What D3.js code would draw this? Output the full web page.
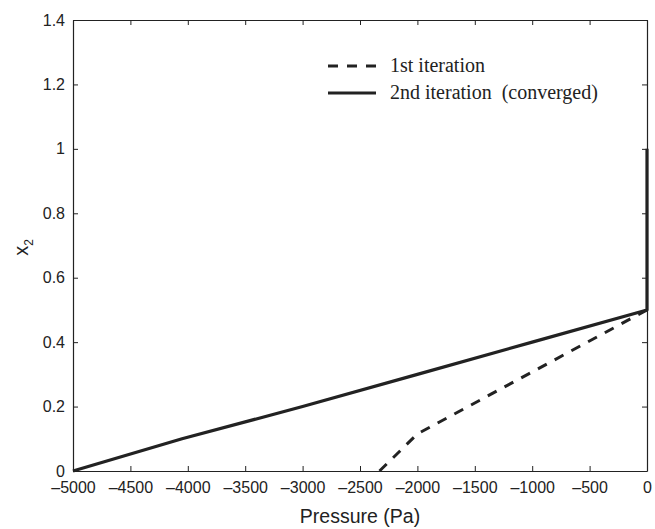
<!DOCTYPE html>
<html>
<head>
<meta charset="utf-8">
<script src="https://cdn.jsdelivr.net/npm/d3@7"></script>
<style>
  html, body { margin: 0; padding: 0; background: #fff; }
  svg { display: block; }
</style>
</head>
<body>
<div id="chart"></div>
<script>
// ── data ─────────────────────────────────────────────
const xTicks = [-5000, -4500, -4000, -3500, -3000, -2500, -2000, -1500, -1000, -500, 0];
const yTicks = [0, 0.2, 0.4, 0.6, 0.8, 1, 1.2, 1.4];

const iter1P  = [-2330, -2000, 0];
const iter1X2 = [0, 0.115, 0.5];

const iter2P  = [-5000, -4050, -3000, -2000, -1000, 0, 0];
const iter2X2 = [0, 0.1, 0.2, 0.3, 0.4, 0.5, 1];

const legendLabels = ['1st iteration', '2nd iteration\u2002(converged)'];

// ── layout ───────────────────────────────────────────
const W = 655, H = 529;
const m = { left: 73, right: 8, top: 20, bottom: 58 };
const iw = W - m.left - m.right, ih = H - m.top - m.bottom;

const svg = d3.select('#chart').append('svg')
  .attr('width', W).attr('height', H);

const x = d3.scaleLinear().domain([-5000, 0]).range([m.left, m.left + iw]);
const y = d3.scaleLinear().domain([0, 1.4]).range([m.top + ih, m.top]);

const sans = "'Liberation Sans', Arial, Helvetica, sans-serif";
const serif = "'Liberation Serif', 'Times New Roman', serif";
const fmtX = d => d < 0 ? '\u2013' + Math.abs(d) : String(d);
const fmtY = d => String(+d.toFixed(1));
const DASH = '10,9';

// ── axes (ticks inward, boxed) ───────────────────────
const tk = 5;
const axB = svg.append('g').attr('transform', `translate(0,${m.top + ih})`)
  .call(d3.axisBottom(x).tickValues(xTicks).tickFormat(fmtX).tickSizeInner(-tk).tickSizeOuter(0).tickPadding(11));
const axT = svg.append('g').attr('transform', `translate(0,${m.top})`)
  .call(d3.axisTop(x).tickValues(xTicks).tickFormat('').tickSizeInner(-tk).tickSizeOuter(0));
const axL = svg.append('g').attr('transform', `translate(${m.left},0)`)
  .call(d3.axisLeft(y).tickValues(yTicks).tickFormat(fmtY).tickSizeInner(-tk).tickSizeOuter(0).tickPadding(8));
const axR = svg.append('g').attr('transform', `translate(${m.left + iw},0)`)
  .call(d3.axisRight(y).tickValues(yTicks).tickFormat('').tickSizeInner(-tk).tickSizeOuter(0));

[axB, axT, axL, axR].forEach(g => {
  g.selectAll('path.domain').attr('stroke', '#222').attr('stroke-width', 1.2);
  g.selectAll('.tick line').attr('stroke', '#222').attr('stroke-width', 1);
  g.selectAll('.tick text').attr('fill', '#222')
    .style('font-family', sans).style('font-size', '16px');
});

// ── lines ────────────────────────────────────────────
const line = d3.line().x(d => x(d[0])).y(d => y(d[1]));
const iter1 = d3.zip(iter1P, iter1X2);
const iter2 = d3.zip(iter2P, iter2X2);

svg.append('path').datum(iter1)
  .attr('d', line).attr('fill', 'none')
  .attr('stroke', '#222').attr('stroke-width', 3)
  .attr('stroke-dasharray', DASH);

svg.append('path').datum(iter2)
  .attr('d', line).attr('fill', 'none')
  .attr('stroke', '#222').attr('stroke-width', 3.2)
  .attr('stroke-linejoin', 'round');

// ── legend ───────────────────────────────────────────
const lg = svg.append('g').attr('transform', 'translate(328,66)');
legendLabels.forEach((lab, i) => {
  const row = lg.append('g').attr('transform', `translate(0,${i * 27})`);
  row.append('line')
    .attr('x1', 0).attr('x2', 48).attr('y1', 0).attr('y2', 0)
    .attr('stroke', '#222').attr('stroke-width', 3)
    .attr('stroke-dasharray', i === 0 ? DASH : null);
  row.append('text')
    .attr('x', 62).attr('y', 6)
    .attr('fill', '#222')
    .style('font-family', serif).style('font-size', '20px')
    .text(lab);
});

// ── axis labels ──────────────────────────────────────
svg.append('text')
  .attr('x', m.left + iw / 2).attr('y', 523)
  .attr('text-anchor', 'middle').attr('fill', '#222')
  .style('font-family', sans).style('font-size', '19.5px')
  .text('Pressure (Pa)');

const yl = svg.append('text')
  .attr('transform', `translate(28,${m.top + ih / 2 + 2}) rotate(-90)`)
  .attr('text-anchor', 'middle').attr('fill', '#222')
  .style('font-family', sans).style('font-size', '20px');
yl.append('tspan').text('x');
yl.append('tspan').attr('dy', 5).style('font-size', '12px').text('2');
</script>
</body>
</html>
